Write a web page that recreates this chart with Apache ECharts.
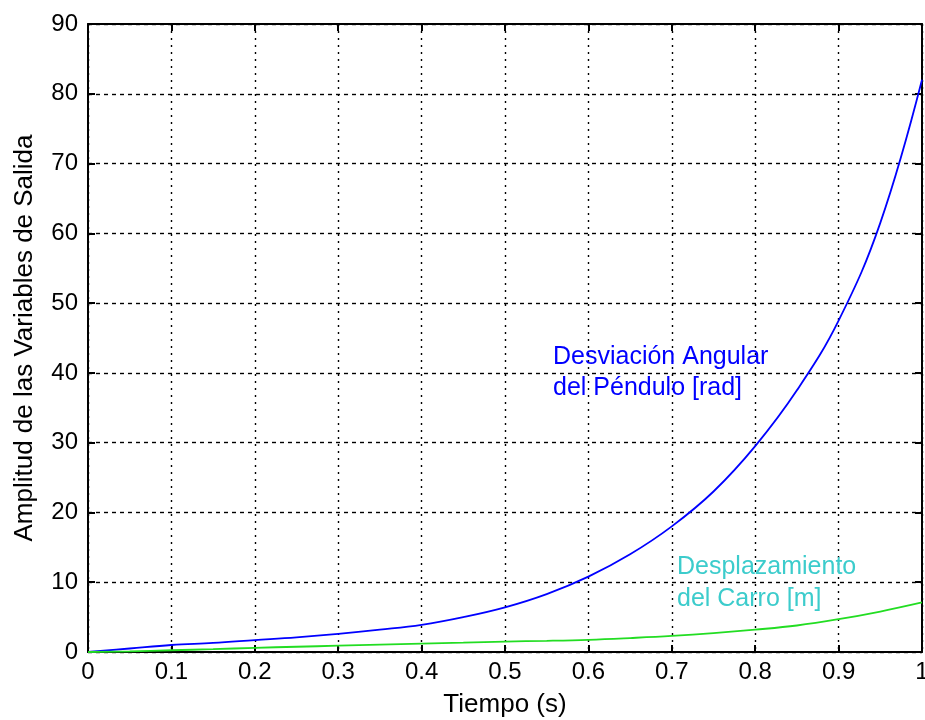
<!DOCTYPE html>
<html><head><meta charset="utf-8">
<script src="https://cdn.jsdelivr.net/npm/echarts@6/dist/echarts.min.js"></script>
<style>html,body{margin:0;padding:0;background:#fff}#c{width:925px;height:720px}</style>
</head><body><div id="c"></div>
<script>
const time = [0,0.05,0.1,0.15,0.2,0.25,0.3,0.35,0.4,0.45,0.5,0.55,0.6,0.65,0.7,0.75,0.8,0.85,0.9,0.95,1.0];
const angular = [0,0.5,1.0,1.3,1.7,2.1,2.6,3.2,3.9,5.0,6.4,8.3,10.8,14.0,18.0,23.0,29.5,37.5,47.5,61.5,82.0];
const cart = [0,0.1,0.25,0.4,0.6,0.75,0.9,1.05,1.2,1.35,1.5,1.6,1.75,2.0,2.3,2.7,3.2,3.8,4.7,5.8,7.1];
const xTicks = [0,0.1,0.2,0.3,0.4,0.5,0.6,0.7,0.8,0.9,1];
const yTicks = [0,10,20,30,40,50,60,70,80,90];
const labelAngular = ['Desviación Angular','del Péndulo [rad]'];
const labelCart = ['Desplazamiento','del Carro [m]'];
const xTitle = 'Tiempo (s)';
const yTitle = 'Amplitud de las Variables de Salida';

const FONT = 'Liberation Sans, Arial, sans-serif';
const chart = echarts.init(document.getElementById('c'));
const pairs = (xs, ys) => xs.map((x,i)=>[x, ys[i]]);
const axisCommon = {
  axisLine:{show:true, onZero:false, lineStyle:{color:'#000', width:2}},
  axisTick:{show:true, inside:true, length:7, lineStyle:{color:'#000', width:2}},
};
chart.setOption({
  animation:false,
  backgroundColor:'#fff',
  grid:{left:88, right:3, top:24, bottom:68, containLabel:false, outerBoundsMode:'none'},
  xAxis:[
    Object.assign({type:'value', min:0, max:1, interval:0.1, position:'bottom',
      name:xTitle, nameLocation:'middle', nameGap:40,
      nameTextStyle:{fontFamily:FONT, fontSize:26, color:'#000'},
      axisLabel:{fontFamily:FONT, fontSize:24, color:'#000', margin:8,
        formatter:v=>{const t=xTicks.find(k=>Math.abs(k-v)<1e-6); return t===undefined?'':String(t);}},
      splitLine:{show:true, lineStyle:{color:'#000', type:[2,5], width:1.4}}}, axisCommon),
    Object.assign({type:'value', min:0, max:1, interval:0.1, position:'top',
      axisLabel:{show:false}, splitLine:{show:false}}, axisCommon)
  ],
  yAxis:[
    Object.assign({type:'value', min:0, max:90, interval:10, position:'left',
      name:yTitle, nameLocation:'middle', nameGap:50, nameRotate:90,
      nameTextStyle:{fontFamily:FONT, fontSize:26, color:'#000'},
      axisLabel:{fontFamily:FONT, fontSize:24, color:'#000', margin:10,
        formatter:v=>yTicks.includes(v)?String(v):''},
      splitLine:{show:true, lineStyle:{color:'#000', type:[4,4], width:1.4}}}, axisCommon),
    Object.assign({type:'value', min:0, max:90, interval:10, position:'right',
      axisLabel:{show:false}, splitLine:{show:false}}, axisCommon)
  ],
  series:[
    {type:'line', name:'angular', data:pairs(time, angular), smooth:0.4, showSymbol:false,
     lineStyle:{color:'#0000ff', width:1.8}, z:3},
    {type:'line', name:'cart', data:pairs(time, cart), smooth:0.4, showSymbol:false,
     lineStyle:{color:'#22dd22', width:1.8}, z:3}
  ],
  graphic:[
    {type:'text', left:553, top:342, z:10, style:{text:labelAngular.join('\n'), fill:'#0000ff',
      font:'25px '+FONT, lineHeight:31}},
    {type:'text', left:677, top:551, z:10, style:{text:labelCart.join('\n'), fill:'#3ccccc',
      font:'25px '+FONT, lineHeight:32}}
  ]
});
</script></body></html>
